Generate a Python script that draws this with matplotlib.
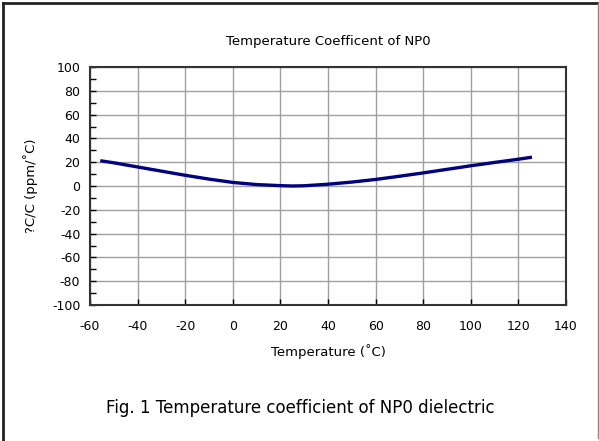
import numpy as np
import matplotlib.pyplot as plt
from matplotlib.ticker import MultipleLocator
from matplotlib.lines import Line2D

plt.rcParams['axes.unicode_minus'] = False

# data
temp = [-55, -50, -40, -30, -20, -10, 0, 10, 20, 25, 30, 40, 50, 60, 70, 80, 90, 100, 110, 120, 125]
tcc = [21, 19.5, 16, 12.5, 9, 5.8, 3, 1.2, 0.3, 0, 0.2, 1.5, 3.3, 5.5, 8.2, 11, 14, 17, 19.8, 22.5, 24]

x_ticks = [-60, -40, -20, 0, 20, 40, 60, 80, 100, 120, 140]
y_ticks = [-100, -80, -60, -40, -20, 0, 20, 40, 60, 80, 100]

fig = plt.figure(figsize=(5.99, 4.41), dpi=100)
ax = fig.add_axes([90 / 599, 1 - 305 / 441, 476 / 599, 238 / 441])

ax.plot(temp, tcc, color='#000080', lw=2.4, zorder=3, solid_joinstyle='round')

ax.set_xlim(-60, 140)
ax.set_ylim(-100, 100)
ax.set_xticks(x_ticks)
ax.set_yticks(y_ticks)
ax.yaxis.set_minor_locator(MultipleLocator(10))
ax.grid(True, color='#a0a0a0', lw=1)
ax.tick_params(direction='in', length=4, width=1, labelsize=9, colors='black', pad=7)
ax.tick_params(axis='x', pad=11)
ax.tick_params(axis='y', which='minor', direction='in', length=4, width=1)
for s in ax.spines.values():
    s.set_color('#333333')
    s.set_linewidth(1.5)

ax.set_title('Temperature Coefficent of NP0', fontsize=9.5, pad=16)
ax.set_xlabel('Temperature (˚C)', fontsize=9.5, labelpad=8)
ax.set_ylabel('?C/C (ppm/˚C)', fontsize=9.5, labelpad=10)

fig.text(300 / 599, 1 - 408 / 441, 'Fig. 1 Temperature coefficient of NP0 dielectric',
         fontsize=12, ha='center', va='center')

# outer frame (left, top, right)
fig.add_artist(Line2D([3 / 599, 3 / 599], [0, 1 - 3 / 441], color='#222222', lw=2, transform=fig.transFigure))
fig.add_artist(Line2D([3 / 599, 598 / 599], [1 - 3 / 441, 1 - 3 / 441], color='#222222', lw=2, transform=fig.transFigure))
fig.add_artist(Line2D([597.5 / 599, 597.5 / 599], [1 - 438 / 441, 1 - 3 / 441], color='#888888', lw=1, transform=fig.transFigure))

fig.savefig('out.png', dpi=100)
